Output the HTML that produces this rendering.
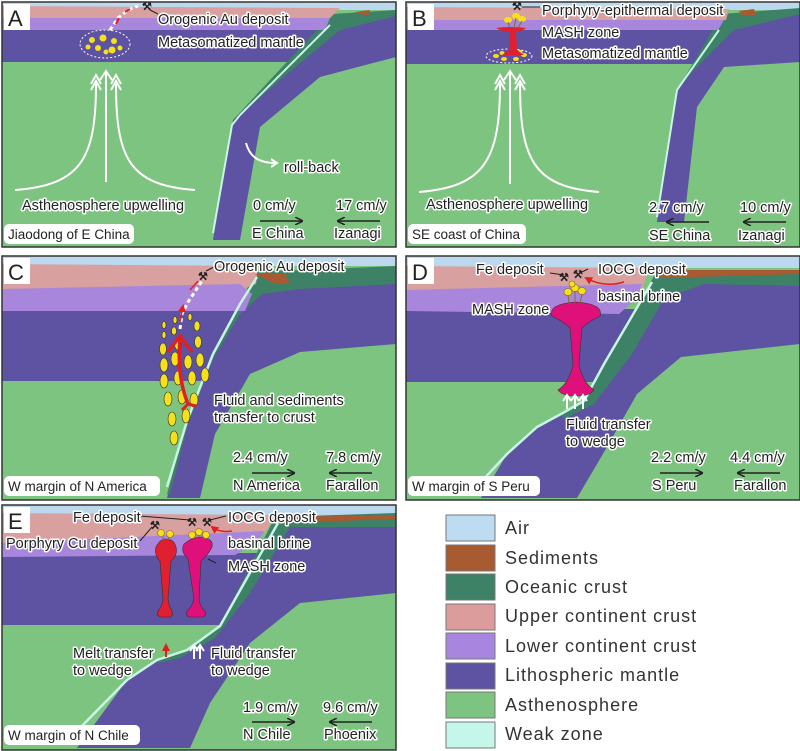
<!DOCTYPE html>
<html><head><meta charset="utf-8"><style>
html,body{margin:0;padding:0;background:#fff}
svg{display:block}
text{font-family:"Liberation Sans",sans-serif;fill:#222}
.h{stroke:#fff;stroke-width:3;paint-order:stroke;stroke-linejoin:round}
.l{font-size:14.5px}
.s{font-size:13.5px}
.lg{font-size:18px;fill:#333;letter-spacing:1px}
</style></head><body>
<svg width="800" height="751" viewBox="0 0 800 751" xmlns="http://www.w3.org/2000/svg">
<defs>
<marker id="ab" markerWidth="8" markerHeight="8" refX="7" refY="4" orient="auto" markerUnits="userSpaceOnUse"><path d="M0,0 L8,4 L0,8" fill="none" stroke="#222" stroke-width="1.5"/></marker>
<marker id="aw" markerWidth="10" markerHeight="10" refX="5" refY="5" orient="auto" markerUnits="userSpaceOnUse"><path d="M0,1 L6,5 L0,9" fill="none" stroke="#fff" stroke-width="2"/></marker>
<marker id="ar" markerWidth="8" markerHeight="8" refX="6" refY="4" orient="auto" markerUnits="userSpaceOnUse"><path d="M0,0 L8,4 L0,8Z" fill="#e02020"/></marker>
</defs>

<!-- PANEL A -->
<g transform="translate(0,0)">
<rect x="2" y="2" width="394" height="245" fill="#7cc47f"/>
<rect x="2" y="2" width="394" height="8" fill="#bcd8ee"/>
<rect x="2" y="30" width="330" height="32" fill="#5e52a2"/>
<path d="M332,20 L396,14 L396,57 L320,77 L260,127 L240,240 L213,240 L233,120 L280,75 Z" fill="#5e52a2"/>
<path d="M332,14 L396,10 L396,16 L340,30 L280,80 L240,115 L233,120 L270,80 Z" fill="#3d8266"/>
<path d="M2,6 L340,8 L330,18 L2,18 Z" fill="#d9a0a0"/>
<path d="M2,18 L330,18 L325,30 L2,30 Z" fill="#a886dc"/>
<path d="M355,12 L370,10 L368,16 Z" fill="#a85a30"/>
<polyline points="330,25 240,115 232,125 213,233" fill="none" stroke="#c8f5e6" stroke-width="2"/>
<ellipse cx="105" cy="44" rx="25" ry="14" fill="none" stroke="#fff" stroke-dasharray="2,2"/>
<g fill="#f5e01a"><circle cx="92" cy="40" r="3"/><circle cx="103" cy="38" r="3.5"/><circle cx="114" cy="41" r="3"/><circle cx="98" cy="48" r="3"/><circle cx="112" cy="50" r="3.5"/><circle cx="88" cy="47" r="2.5"/><circle cx="120" cy="48" r="2.5"/><circle cx="106" cy="52" r="2.5"/></g>
<path d="M110,30 L118,18 L128,10 L138,6" stroke="#fff" stroke-width="3" fill="none" stroke-dasharray="4,3"/>
<path d="M116,24 L119,18 M125,12 L130,9" stroke="#e02020" stroke-width="2"/>
<text x="142" y="10" font-size="11" font-weight="bold">⚒</text>
<line x1="150" y1="10" x2="158" y2="14" stroke="#222"/>
<text class="l h" x="158" y="24">Orogenic Au deposit</text>
<text class="l h" x="158" y="47">Metasomatized mantle</text>
<g stroke="#fff" stroke-width="2" fill="none">
<line x1="106" y1="182" x2="106" y2="72"/><path d="M100,80 L106,71 L112,80"/>
<path d="M15,190 C80,185 96,160 96,84"/><path d="M91,90 L96,81 L101,90"/><path d="M91,84 L96,75 L101,84"/>
<path d="M195,190 C130,185 116,160 116,84"/><path d="M111,90 L116,81 L121,90"/><path d="M111,84 L116,75 L121,84"/>
<path d="M246,143 C250,158 260,163 276,163" marker-end="url(#aw)"/>
</g>
<text class="l h" x="284" y="172">roll-back</text>
<text class="l h" x="22" y="210">Asthenosphere upwelling</text>
<text class="l h" x="253" y="210">0 cm/y</text>
<text class="l h" x="336" y="210">17 cm/y</text>
<line x1="260" y1="221" x2="302" y2="221" stroke="#222" stroke-width="1.5" marker-end="url(#ab)"/>
<line x1="380" y1="221" x2="338" y2="221" stroke="#222" stroke-width="1.5" marker-end="url(#ab)"/>
<text class="l h" x="252" y="238">E China</text>
<text class="l h" x="334" y="238">Izanagi</text>
<rect x="4" y="224" width="130" height="20" rx="5" fill="#fff"/>
<text class="s" x="8" y="239">Jiaodong of E China</text>
<rect x="4" y="4" width="26" height="26" fill="#fff"/>
<text x="8" y="26" font-size="22">A</text>
<rect x="2" y="2" width="394" height="245" fill="none" stroke="#333" stroke-width="1.5"/>
</g>

<!-- PANEL B -->
<g transform="translate(404,0)">
<rect x="2" y="2" width="394" height="245" fill="#7cc47f"/>
<rect x="2" y="2" width="394" height="8" fill="#bcd8ee"/>
<rect x="2" y="30" width="316" height="34" fill="#5e52a2"/>
<path d="M318,22 L396,12 L396,62 L320,67 L293,107 L280,222 L253,222 L273,90 Z" fill="#5e52a2"/>
<path d="M318,14 L396,8 L396,14 L330,30 L290,70 L273,90 L300,45 Z" fill="#3d8266"/>
<path d="M2,7 L325,9 L322,20 L2,20 Z" fill="#d9a0a0"/>
<path d="M2,20 L320,20 L314,30 L2,30 Z" fill="#a886dc"/>
<path d="M335,11 L350,9 L352,15 L338,15 Z" fill="#a85a30"/>
<polyline points="315,30 273,90 253,217" fill="none" stroke="#c8f5e6" stroke-width="2"/>
<ellipse cx="105" cy="56" rx="23" ry="7" fill="none" stroke="#fff" stroke-dasharray="2,2"/>
<g fill="#f5e01a"><ellipse cx="92" cy="56" rx="3" ry="2"/><ellipse cx="100" cy="59" rx="3" ry="2"/><ellipse cx="112" cy="59" rx="3" ry="2"/><ellipse cx="120" cy="55" rx="3" ry="2"/><ellipse cx="98" cy="53" rx="2.5" ry="2"/><ellipse cx="116" cy="52" rx="2.5" ry="2"/></g>
<path d="M92,28 Q108,26 122,28 L116,32 L112,32 L113,50 L120,55 L98,55 L105,50 L106,32 L100,32 Z" fill="#e02030"/>
<g fill="#f5e01a"><ellipse cx="104" cy="20" rx="4" ry="3"/><ellipse cx="112" cy="16" rx="4" ry="3"/><ellipse cx="118" cy="19" rx="4" ry="3"/></g>
<g stroke="#8a6a20" stroke-width="1"><line x1="104" y1="22" x2="106" y2="28"/><line x1="112" y1="18" x2="110" y2="28"/><line x1="118" y1="21" x2="114" y2="28"/></g>
<text x="108" y="10" font-size="11" font-weight="bold">⚒</text>
<line x1="118" y1="7" x2="136" y2="7" stroke="#222"/>
<text class="l h" x="138" y="15">Porphyry-epithermal deposit</text>
<text class="l h" x="138" y="37">MASH zone</text>
<text class="l h" x="138" y="58">Metasomatized mantle</text>
<g stroke="#fff" stroke-width="2" fill="none">
<line x1="106" y1="184" x2="106" y2="72"/><path d="M100,80 L106,71 L112,80"/>
<path d="M15,192 C80,187 96,160 96,84"/><path d="M91,90 L96,81 L101,90"/><path d="M91,84 L96,75 L101,84"/>
<path d="M195,192 C130,187 116,160 116,84"/><path d="M111,90 L116,81 L121,90"/><path d="M111,84 L116,75 L121,84"/>
</g>
<text class="l h" x="22" y="209">Asthenosphere upwelling</text>
<text class="l h" x="245" y="212">2.7 cm/y</text>
<text class="l h" x="336" y="212">10 cm/y</text>
<line x1="305" y1="222" x2="263" y2="222" stroke="#222" stroke-width="1.5" marker-end="url(#ab)"/>
<line x1="382" y1="222" x2="340" y2="222" stroke="#222" stroke-width="1.5" marker-end="url(#ab)"/>
<text class="l h" x="245" y="240">SE  China</text>
<text class="l h" x="334" y="240">Izanagi</text>
<rect x="4" y="224" width="118" height="20" rx="5" fill="#fff"/>
<text class="s" x="8" y="239">SE coast of China</text>
<rect x="4" y="4" width="26" height="26" fill="#fff"/>
<text x="8" y="26" font-size="22">B</text>
<rect x="2" y="2" width="394" height="245" fill="none" stroke="#333" stroke-width="1.5"/>
</g>

<!-- PANEL C -->
<g transform="translate(0,254)">
<rect x="2" y="2" width="394" height="244" fill="#7cc47f"/>
<rect x="2" y="2" width="394" height="10" fill="#bcd8ee"/>
<path d="M2,55 L240,55 L203,127 L2,127 Z" fill="#5e52a2"/>
<path d="M255,25 L396,20 L396,90 L300,98 L250,120 L215,180 L200,244 L167,244 L187,167 L213,100 L240,50 Z" fill="#5e52a2"/>
<path d="M255,18 L396,12 L396,30 L300,35 L262,40 L240,60 L213,105 L188,170 L170,240 L167,240 L187,167 L213,100 L240,50 Z" fill="#3d8266"/>
<path d="M2,10 L258,12 L256,30 L240,36 L2,35 Z" fill="#d9a0a0"/>
<path d="M2,35 L240,30 L252,40 L245,57 L2,57 Z" fill="#a886dc"/>
<path d="M255,20 L285,20 L290,30 L275,30 Z M265,20 L270,14 L268,24 Z" fill="#a85a30"/>
<polyline points="257,23 240,50 213,100 187,167 167,233" fill="none" stroke="#c8f5e6" stroke-width="2.5"/>
<path d="M180,75 L182,60 L188,48 L196,36 L203,25" stroke="#fff" stroke-width="3" fill="none" stroke-dasharray="4,3"/>
<g fill="#f5e01a" stroke="#333" stroke-width="0.6">
<ellipse cx="164" cy="71" rx="2" ry="3.5"/><ellipse cx="164" cy="81" rx="2" ry="3.5"/><ellipse cx="175" cy="66" rx="2" ry="3.5"/><ellipse cx="190" cy="63" rx="2" ry="3.5"/><ellipse cx="174" cy="77" rx="2.5" ry="4"/><ellipse cx="197" cy="72" rx="3" ry="5"/>
<ellipse cx="163" cy="95" rx="3.5" ry="6"/><ellipse cx="178" cy="90" rx="3.5" ry="6"/><ellipse cx="198" cy="88" rx="3.5" ry="6"/>
<ellipse cx="164" cy="111" rx="4" ry="7"/><ellipse cx="175" cy="105" rx="4" ry="7"/><ellipse cx="188" cy="108" rx="4" ry="7"/><ellipse cx="200" cy="106" rx="4" ry="7"/>
<ellipse cx="164" cy="127" rx="4" ry="7"/><ellipse cx="178" cy="124" rx="4" ry="7"/><ellipse cx="192" cy="124" rx="4" ry="7"/><ellipse cx="205" cy="121" rx="4" ry="7"/>
<ellipse cx="168" cy="145" rx="4" ry="7"/><ellipse cx="182" cy="143" rx="4" ry="7"/><ellipse cx="194" cy="146" rx="4" ry="7"/>
<ellipse cx="172" cy="165" rx="4" ry="7"/><ellipse cx="186" cy="162" rx="4" ry="7"/><ellipse cx="174" cy="184" rx="4" ry="7"/>
</g>
<path d="M188,150 C180,130 178,110 180,85" stroke="#e02020" stroke-width="3.5" fill="none"/>
<path d="M168,98 L180,82 L192,98" stroke="#e02020" stroke-width="3.5" fill="none"/>
<path d="M188,150 L196,152 M188,150 L182,156" stroke="#e02020" stroke-width="3"/>
<path d="M180,68 L183,52" stroke="#e02020" stroke-width="1.5" marker-end="url(#ar)"/>
<path d="M190,36 L198,27" stroke="#e02020" stroke-width="1.5"/>
<text x="198" y="26" font-size="11" font-weight="bold">⚒</text>
<line x1="206" y1="17" x2="214" y2="13" stroke="#222"/>
<text class="l h" x="214" y="17">Orogenic Au deposit</text>
<text class="l h" x="214" y="151">Fluid and sediments</text>
<text class="l h" x="214" y="168">transfer to crust</text>
<text class="l h" x="233" y="208">2.4 cm/y</text>
<text class="l h" x="326" y="208">7.8 cm/y</text>
<line x1="252" y1="219" x2="294" y2="219" stroke="#222" stroke-width="1.5" marker-end="url(#ab)"/>
<line x1="372" y1="219" x2="330" y2="219" stroke="#222" stroke-width="1.5" marker-end="url(#ab)"/>
<text class="l h" x="233" y="236">N  America</text>
<text class="l h" x="326" y="236">Farallon</text>
<rect x="4" y="222" width="156" height="20" rx="5" fill="#fff"/>
<text class="s" x="8" y="237">W margin of N America</text>
<rect x="4" y="4" width="26" height="26" fill="#fff"/>
<text x="8" y="26" font-size="22">C</text>
<rect x="2" y="2" width="394" height="244" fill="none" stroke="#333" stroke-width="1.5"/>
</g>

<!-- PANEL D -->
<g transform="translate(404,254)">
<rect x="2" y="2" width="394" height="244" fill="#7cc47f"/>
<rect x="2" y="2" width="394" height="12" fill="#bcd8ee"/>
<path d="M2,55 L234,55 L190,128 L2,128 Z" fill="#5e52a2"/>
<path d="M250,26 L396,20 L396,90 L277,103 L233,140 L203,193 L173,244 L77,244 L103,200 L133,173 L157,160 L180,147 L200,110 Z" fill="#5e52a2"/>
<path d="M250,22 L396,16 L396,32 L300,30 L260,45 L228,100 L190,150 L160,165 L157,160 L180,147 L200,110 Z" fill="#3d8266"/>
<path d="M2,12 L245,14 L238,35 L2,36 Z" fill="#d9a0a0"/>
<path d="M2,36 L238,30 L232,45 L215,60 L2,57 Z" fill="#a886dc"/>
<path d="M255,16 L396,16 L396,20 L255,24 Z" fill="#a85a30"/>
<polyline points="248,28 200,110 180,147 157,160 133,173 103,200 77,228" fill="none" stroke="#c8f5e6" stroke-width="2.5"/>
<path d="M148,62 Q144,50 172,48 Q200,50 196,62 Q184,68 178,74 L175,110 Q178,128 190,136 Q186,142 172,142 Q158,142 154,136 Q166,128 169,110 L166,74 Q160,68 148,62Z" fill="#e0107a" stroke="#333" stroke-width="0.6"/>
<g fill="#f5e01a" stroke="#8a6a20" stroke-width="0.6"><ellipse cx="164" cy="38" rx="4" ry="3.5"/><ellipse cx="171" cy="34" rx="4" ry="3.5"/><ellipse cx="178" cy="37" rx="4" ry="3.5"/><ellipse cx="168" cy="30" rx="3" ry="3"/></g>
<g stroke="#8a6a20"><line x1="164" y1="41" x2="165" y2="49"/><line x1="171" y1="37" x2="171" y2="49"/><line x1="178" y1="40" x2="176" y2="49"/></g>
<text x="155" y="27" font-size="11" font-weight="bold">⚒</text>
<text x="169" y="24" font-size="11" font-weight="bold">⚒</text>
<line x1="146" y1="19" x2="160" y2="21" stroke="#222"/>
<line x1="184" y1="15" x2="178" y2="18" stroke="#222"/>
<path d="M220,28 Q200,34 182,24" stroke="#e02020" stroke-width="1.5" fill="none" marker-end="url(#ar)"/>
<text class="l h" x="72" y="20">Fe deposit</text>
<text class="l h" x="194" y="20">IOCG deposit</text>
<text class="l h" x="194" y="47">basinal brine</text>
<text class="l h" x="68" y="60">MASH zone</text>
<g stroke="#fff" stroke-width="2" fill="none"><path d="M163,155 L163,143 M159,147 L163,141 L167,147"/><path d="M171,155 L171,143 M167,147 L171,141 L175,147"/><path d="M179,155 L179,143 M175,147 L179,141 L183,147"/></g>
<text class="l h" x="162" y="175">Fluid transfer</text>
<text class="l h" x="162" y="192">to wedge</text>
<text class="l h" x="247" y="208">2.2 cm/y</text>
<text class="l h" x="326" y="208">4.4 cm/y</text>
<line x1="256" y1="219" x2="298" y2="219" stroke="#222" stroke-width="1.5" marker-end="url(#ab)"/>
<line x1="376" y1="219" x2="334" y2="219" stroke="#222" stroke-width="1.5" marker-end="url(#ab)"/>
<text class="l h" x="248" y="236">S  Peru</text>
<text class="l h" x="330" y="236">Farallon</text>
<rect x="4" y="222" width="132" height="20" rx="5" fill="#fff"/>
<text class="s" x="8" y="237">W margin of S Peru</text>
<rect x="4" y="4" width="26" height="26" fill="#fff"/>
<text x="8" y="26" font-size="22">D</text>
<rect x="2" y="2" width="394" height="244" fill="none" stroke="#333" stroke-width="1.5"/>
</g>

<!-- PANEL E -->
<g transform="translate(0,503)">
<rect x="2" y="2" width="394" height="245" fill="#7cc47f"/>
<rect x="2" y="2" width="394" height="12" fill="#bcd8ee"/>
<path d="M2,50 L262,50 L221,122 L2,122 Z" fill="#5e52a2"/>
<path d="M275,18 L396,14 L396,90 L300,100 L250,140 L210,200 L190,245 L77,245 L127,177 L157,157 L187,147 L220,123 Z" fill="#5e52a2"/>
<path d="M275,14 L396,10 L396,24 L290,24 L250,90 L215,135 L180,155 L157,160 L157,157 L187,147 L220,123 Z" fill="#3d8266"/>
<path d="M2,10 L275,12 L265,30 L2,40 Z" fill="#d9a0a0"/>
<path d="M2,40 L265,28 L256,40 L235,52 L2,54 Z" fill="#a886dc"/>
<path d="M280,14 L396,12 L396,16 L280,20 Z" fill="#a85a30"/>
<polyline points="278,20 220,123 187,147 157,157 127,177 77,228" fill="none" stroke="#c8f5e6" stroke-width="2.5"/>
<path d="M160,58 Q154,52 156,44 Q160,36 166,36 Q174,36 176,44 Q178,52 171,58 L168,96 Q169,104 172,108 Q174,112 170,114 L160,114 Q156,112 158,108 Q162,104 163,96 Z" fill="#e02030" stroke="#333" stroke-width="0.6"/>
<path d="M188,56 Q180,48 184,41 Q192,34 202,34 Q214,36 212,44 Q208,52 201,58 L199,96 Q200,104 205,108 Q207,112 203,114 L189,114 Q185,112 187,108 Q192,104 194,96 Z" fill="#e0107a" stroke="#333" stroke-width="0.6"/>
<g fill="#f5e01a" stroke="#8a6a20" stroke-width="0.6"><ellipse cx="161" cy="30" rx="3.5" ry="3.5"/><ellipse cx="170" cy="31" rx="3.5" ry="3.5"/><ellipse cx="192" cy="32" rx="3.5" ry="3.5"/><ellipse cx="199" cy="29" rx="3.5" ry="3.5"/><ellipse cx="206" cy="32" rx="3.5" ry="3.5"/></g>
<g stroke="#8a6a20"><line x1="163" y1="34" x2="164" y2="37"/><line x1="169" y1="34" x2="168" y2="37"/><line x1="193" y1="35" x2="194" y2="36"/><line x1="199" y1="32" x2="199" y2="34"/><line x1="205" y1="35" x2="203" y2="36"/></g>
<text x="150" y="26" font-size="11" font-weight="bold">⚒</text>
<text x="187" y="23" font-size="11" font-weight="bold">⚒</text>
<text x="202" y="23" font-size="11" font-weight="bold">⚒</text>
<line x1="140" y1="13" x2="190" y2="17" stroke="#222"/>
<line x1="226" y1="13" x2="210" y2="17" stroke="#222"/>
<line x1="140" y1="38" x2="152" y2="24" stroke="#222"/>
<line x1="216" y1="60" x2="208" y2="56" stroke="#222"/>
<path d="M232,28 Q220,30 212,24" stroke="#e02020" stroke-width="1.5" fill="none" marker-end="url(#ar)"/>
<text class="l h" x="73" y="19">Fe deposit</text>
<text class="l h" x="228" y="19">IOCG deposit</text>
<text class="l h" x="6" y="45">Porphyry Cu deposit</text>
<text class="l h" x="228" y="45">basinal brine</text>
<text class="l h" x="228" y="68">MASH zone</text>
<path d="M166,154 L166,142" stroke="#e02020" stroke-width="2" marker-end="url(#ar)"/>
<g stroke="#fff" stroke-width="2" fill="none"><path d="M194,156 L194,144 M190,148 L194,142 L198,148"/><path d="M200,156 L200,144 M196,148 L200,142 L204,148"/></g>
<text class="l h" x="73" y="155">Melt transfer</text>
<text class="l h" x="73" y="172">to wedge</text>
<text class="l h" x="211" y="155">Fluid transfer</text>
<text class="l h" x="211" y="172">to wedge</text>
<text class="l h" x="243" y="209">1.9 cm/y</text>
<text class="l h" x="323" y="209">9.6 cm/y</text>
<line x1="252" y1="219" x2="294" y2="219" stroke="#222" stroke-width="1.5" marker-end="url(#ab)"/>
<line x1="372" y1="219" x2="330" y2="219" stroke="#222" stroke-width="1.5" marker-end="url(#ab)"/>
<text class="l h" x="243" y="236">N  Chile</text>
<text class="l h" x="324" y="236">Phoenix</text>
<rect x="4" y="222" width="136" height="20" rx="5" fill="#fff"/>
<text class="s" x="8" y="237">W margin of N Chile</text>
<rect x="4" y="4" width="26" height="26" fill="#fff"/>
<text x="8" y="26" font-size="22">E</text>
<rect x="2" y="2" width="394" height="245" fill="none" stroke="#333" stroke-width="1.5"/>
</g>

<!-- LEGEND -->
<g stroke="#777" stroke-width="1">
<rect x="446" y="515" width="49" height="26" fill="#bddcf2"/>
<rect x="446" y="545" width="49" height="26" fill="#a85a30"/>
<rect x="446" y="574" width="49" height="26" fill="#3d8266"/>
<rect x="446" y="604" width="49" height="26" fill="#dc9c9c"/>
<rect x="446" y="633" width="49" height="26" fill="#a886e0"/>
<rect x="446" y="663" width="49" height="26" fill="#5e52a2"/>
<rect x="446" y="692" width="49" height="26" fill="#7cc47f"/>
<rect x="446" y="722" width="49" height="26" fill="#c4f7ea"/>
</g>
<text class="lg" x="505" y="534">Air</text>
<text class="lg" x="505" y="564">Sediments</text>
<text class="lg" x="505" y="593">Oceanic  crust</text>
<text class="lg" x="505" y="622">Upper  continent crust</text>
<text class="lg" x="505" y="652">Lower  continent crust</text>
<text class="lg" x="505" y="681">Lithospheric  mantle</text>
<text class="lg" x="505" y="711">Asthenosphere</text>
<text class="lg" x="505" y="740">Weak zone</text>
</svg>
</body></html>
